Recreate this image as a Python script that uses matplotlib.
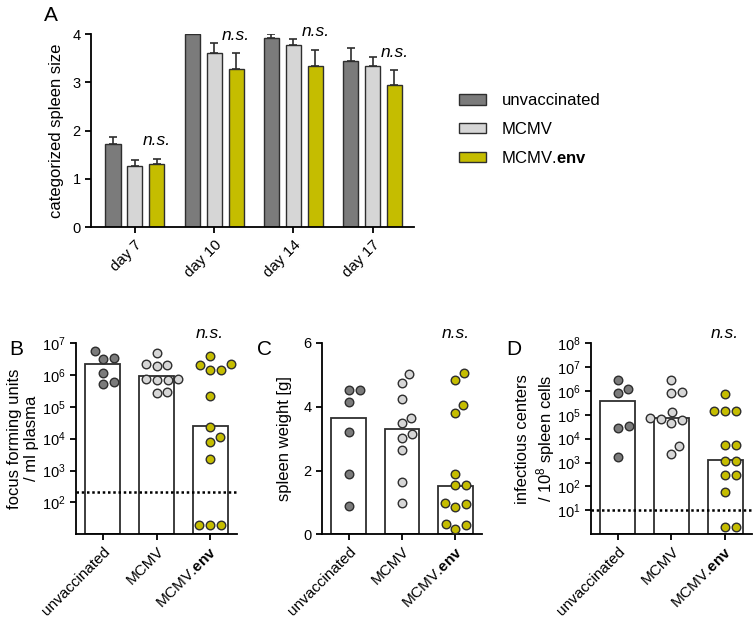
import numpy as np
import matplotlib
matplotlib.use("Agg")
import matplotlib.pyplot as plt
from matplotlib.patches import Patch
from matplotlib.ticker import NullLocator

plt.rcParams['font.family'] = ['Liberation Sans', 'DejaVu Sans']
plt.rcParams['mathtext.fontset'] = 'custom'
plt.rcParams['mathtext.rm'] = 'Liberation Sans'
plt.rcParams['mathtext.bf'] = 'Liberation Sans:bold'
plt.rcParams['mathtext.it'] = 'Liberation Sans:italic'

# ---- data ----
groups = ["unvaccinated", "MCMV", "MCMV.$\\bf{env}$"]
days = ["day 7", "day 10", "day 14", "day 17"]

# panel A: categorized spleen size, mean + SEM
size_unvac = [1.73, 4.0, 3.93, 3.44]
size_unvac_err = [0.14, 0.0, 0.07, 0.27]
size_mcmv = [1.26, 3.61, 3.77, 3.35]
size_mcmv_err = [0.13, 0.21, 0.13, 0.17]
size_env = [1.31, 3.28, 3.35, 2.94]
size_env_err = [0.11, 0.32, 0.32, 0.31]

# panel B: focus forming units / ml plasma
ffu_unvac = [3.5e6, 3.2e6, 5.5e6, 1.15e6, 5.2e5, 5.9e5]
ffu_mcmv = [4.9e6, 2.1e6, 2.2e6, 1.95e6, 7.1e5, 7.1e5, 7.4e5, 7.4e5, 2.7e5, 3.0e5]
ffu_env = [2.2e6, 3.8e6, 1.45e6, 1.45e6, 2.1e6, 2.1e5, 2.4e4, 1.15e4, 7.8e3,
           2.3e3, 20, 20, 20]
ffu_bars = [2.2e6, 9.3e5, 2.5e4]
ffu_limit = 205

# panel C: spleen weight [g]
wt_unvac = [4.52, 4.52, 4.15, 3.22, 1.89, 0.90]
wt_mcmv = [5.02, 4.76, 4.24, 3.48, 3.66, 3.16, 3.03, 2.64, 1.63, 0.97]
wt_env = [5.06, 4.83, 3.79, 4.05, 1.89, 1.54, 1.54, 0.94, 0.87, 0.99, 0.32,
          0.16, 0.29]
wt_bars = [3.66, 3.31, 1.53]

# panel D: infectious centers / 10^8 spleen cells
ic_unvac = [2.75e6, 1.2e6, 8.1e5, 3.3e4, 2.7e4, 1.7e3]
ic_mcmv = [2.7e6, 8.5e5, 7.8e5, 1.35e5, 7.6e4, 5.8e4, 4.7e4, 6.9e4, 4.7e3,
           2.2e3]
ic_env = [7.4e5, 1.4e5, 1.4e5, 1.4e5, 5.2e3, 5.2e3, 1.2e3, 1.2e3, 2.9e2,
          2.9e2, 60, 2, 2]
ic_bars = [3.9e5, 7.4e4, 1.26e3]
ic_limit = 10

c_dark = "#7b7b7b"
c_light = "#d6d6d6"
c_yel = "#c5bd00"
c_edge = "#2e2e2e"
colors = [c_dark, c_light, c_yel]

fig = plt.figure(figsize=(7.55, 6.22), dpi=100)

tick_fs = 10.5
xtick_fs = 11
lab_fs = 12
ns_fs = 12.5


def style(ax):
    for s in ["top", "right"]:
        ax.spines[s].set_visible(False)
    for s in ["left", "bottom"]:
        ax.spines[s].set_linewidth(1.3)
    ax.tick_params(width=1.3, length=4, labelsize=tick_fs, direction="out")


def swarm(ax, xc, vals, d=11.0):
    vals = np.asarray(vals, float)
    pts = ax.transData.transform(np.column_stack([np.full(len(vals), xc), vals]))
    x0 = pts[0, 0]
    ys = pts[:, 1]
    placed = []
    offs = np.zeros(len(vals))
    for i in np.argsort(ys):
        y = ys[i]
        cands = [0.0]
        for px, py in placed:
            dy = y - py
            if abs(dy) < d:
                dx = np.sqrt(d * d - dy * dy)
                cands += [px + dx, px - dx]
        cands.sort(key=abs)
        for c in cands:
            if all((c - px) ** 2 + (y - py) ** 2 >= d * d - 1e-6 for px, py in placed):
                break
        offs[i] = c
        placed.append((c, y))
    inv = ax.transData.inverted()
    return np.array([inv.transform((x0 + o, y))[0] for o, y in zip(offs, ys)])


# ---- panel A ----
axA = fig.add_axes([0.1205, 0.635, 0.4275, 0.31])
style(axA)
xg = np.arange(len(days))
off = 0.277
bw = 0.19
for k, (vals, errs) in enumerate([(size_unvac, size_unvac_err),
                                  (size_mcmv, size_mcmv_err),
                                  (size_env, size_env_err)]):
    xs = xg + (k - 1) * off
    axA.bar(xs, vals, width=bw, color=colors[k], edgecolor=c_edge,
            linewidth=1.0, zorder=2)
    axA.errorbar(xs, vals, yerr=[np.zeros(len(errs)), errs], fmt="none",
                 ecolor=c_edge, elinewidth=1.2, capsize=3, capthick=1.2,
                 zorder=1)
for i in range(len(days)):
    axA.text(xg[i] + off, size_env[i] + size_env_err[i] + 0.38, "n.s.",
             style="italic", fontsize=ns_fs, ha="center", va="center")
axA.set_xlim(-0.555, 3.52)
axA.set_ylim(0, 4)
axA.set_yticks([0, 1, 2, 3, 4])
axA.set_xticks(xg)
axA.set_xticklabels(days, rotation=45, ha="right", rotation_mode="anchor",
                    fontsize=xtick_fs)
axA.set_ylabel("categorized spleen size", fontsize=lab_fs, labelpad=6)
fig.text(0.068, 0.975, "A", fontsize=15, ha="center", va="center")

handles = [Patch(facecolor=c, edgecolor=c_edge, linewidth=1.0) for c in colors]
fig.legend(handles, groups, loc="upper left", bbox_to_anchor=(0.588, 0.874),
           frameon=False, fontsize=lab_fs, handlelength=1.65, handleheight=0.6,
           labelspacing=0.8, handletextpad=0.9)

xb = np.arange(3)
panel_y0 = 0.141
panel_h = 0.3076

# B
axB = fig.add_axes([0.1007, panel_y0, 0.2132, panel_h])
style(axB)
axB.set_xlim(-0.5, 2.5)
axB.set_yscale("log")
axB.set_ylim(10, 1e7)
exps_B = [2, 3, 4, 5, 6, 7]
axB.set_yticks([10.0 ** e for e in exps_B])
axB.set_yticklabels(["10$^{%d}$" % e for e in exps_B])
axB.yaxis.set_minor_locator(NullLocator())
axB.set_ylabel("focus forming units\n/ ml plasma", fontsize=lab_fs, labelpad=2)
axB.bar(xb, ffu_bars, width=0.65, color="white", edgecolor=c_edge,
        linewidth=1.3, zorder=1, bottom=10)
axB.axhline(ffu_limit, color="black", linestyle=(0, (1, 1.1)), linewidth=1.8,
            zorder=3)
for k, vals in enumerate([ffu_unvac, ffu_mcmv, ffu_env]):
    axB.scatter(swarm(axB, xb[k], vals), vals, s=38, color=colors[k],
                edgecolor=c_edge, linewidth=1.0, zorder=4, clip_on=False)

# C
axC = fig.add_axes([0.4265, panel_y0, 0.2119, panel_h])
style(axC)
axC.set_xlim(-0.5, 2.5)
axC.set_ylim(0, 6)
axC.set_yticks([0, 2, 4, 6])
axC.set_ylabel("spleen weight [g]", fontsize=lab_fs, labelpad=8)
axC.bar(xb, wt_bars, width=0.65, color="white", edgecolor=c_edge,
        linewidth=1.3, zorder=1)
for k, vals in enumerate([wt_unvac, wt_mcmv, wt_env]):
    axC.scatter(swarm(axC, xb[k], vals), vals, s=38, color=colors[k],
                edgecolor=c_edge, linewidth=1.0, zorder=4, clip_on=False)

# D
axD = fig.add_axes([0.7828, panel_y0, 0.2132, panel_h])
style(axD)
axD.set_xlim(-0.5, 2.5)
axD.set_yscale("log")
axD.set_ylim(1, 1e8)
exps_D = [1, 2, 3, 4, 5, 6, 7, 8]
axD.set_yticks([10.0 ** e for e in exps_D])
axD.set_yticklabels(["10$^{%d}$" % e for e in exps_D])
axD.yaxis.set_minor_locator(NullLocator())
axD.set_ylabel("infectious centers\n/ 10$^{8}$ spleen cells", fontsize=lab_fs,
               labelpad=0)
axD.bar(xb, ic_bars, width=0.65, color="white", edgecolor=c_edge,
        linewidth=1.3, zorder=1, bottom=1)
axD.axhline(ic_limit, color="black", linestyle=(0, (1, 1.1)), linewidth=1.8,
            zorder=3)
for k, vals in enumerate([ic_unvac, ic_mcmv, ic_env]):
    axD.scatter(swarm(axD, xb[k], vals), vals, s=38, color=colors[k],
                edgecolor=c_edge, linewidth=1.0, zorder=4, clip_on=False)

for ax, letter, lx in [(axB, "B", 0.021), (axC, "C", 0.35), (axD, "D", 0.68)]:
    ax.set_xticks(xb)
    ax.set_xticklabels(groups, rotation=45, ha="right", rotation_mode="anchor",
                       fontsize=xtick_fs)
    ax.text(2, 1.05, "n.s.", transform=ax.get_xaxis_transform(),
            style="italic", fontsize=ns_fs, ha="center", va="center")
    fig.text(lx, 0.438, letter, fontsize=15, ha="center", va="center")

fig.savefig("out.png", dpi=100)
